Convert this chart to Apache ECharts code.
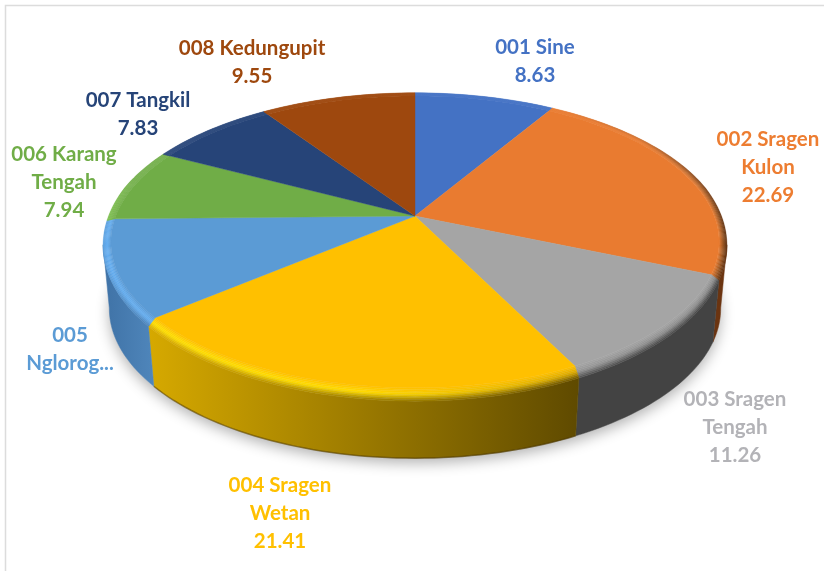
<!DOCTYPE html>
<html>
<head>
<meta charset="utf-8">
<script src="https://cdn.jsdelivr.net/npm/echarts@6/dist/echarts.min.js"></script>
<style>
  html, body { margin: 0; padding: 0; background: #fff; }
  #chart { width: 824px; height: 571px; }
</style>
</head>
<body>
<div id="chart"></div>
<script>
// data
const categories = ['001 Sine', '002 Sragen\nKulon', '003 Sragen\nTengah', '004 Sragen\nWetan', '005\nNglorog...', '006 Karang\nTengah', '007 Tangkil', '008 Kedungupit'];
const values = [8.63, 22.69, 11.26, 21.41, 10.69, 7.94, 7.83, 9.55];
const valueHidden = [false, false, false, false, true, false, false, false];

// colours
const faceColors = ['#4472C4', '#E97B30', '#A5A5A5', '#FFC000', '#5B9BD5', '#70AD47', '#264478', '#9E480E'];
const labelColors = ['#4472C4', '#ED7D31', '#B3B3B7', '#FFC000', '#5B9BD5', '#70AD47', '#264478', '#9E480E'];
const sideColors = [
  null,
  ['#6b3410', '#6b3410'],
  ['#434343', '#434343'],
  ['#d6a900', '#5f4a00'],
  ['#3f72a6', '#4f86bb'],
  null, null, null
];
const sideEdgeColors = [null, null, null, 'rgba(70,50,0,0.5)', null, null, null, null];
// bevel colours, left / middle / right of each slice
const rimHigh = [
  null,
  ['#E97B30', '#E97B30', '#9a5520'],
  ['#959595', '#8f8f8f', '#8a8a8a'],
  ['#ffe000', '#ffdb00', '#d8a600'],
  ['#64aef2', '#64aef2', '#64aef2'],
  ['#78b84c', '#70AD47', '#70AD47'],
  null, null
];
const rimEnd = [
  null,
  ['#E97B30', '#c96a28', '#5a2d0c'],
  ['#505050', '#484848', '#434343'],
  ['#d8a800', '#9a7c00', '#6a5200'],
  ['#5a9fdf', '#4f8cc4', '#4a80b5'],
  ['#7cc04e', '#70AD47', '#70AD47'],
  null, null
];
// label centres, placed by hand like the original
const labelCenters = [[535, 61], [768, 167], [735, 427], [280, 513], [70, 349], [64, 182], [138, 114], [252, 62]];

// projection of the tilted disc
const cx = 415, cy = 216, R = 307, S = 145, k = 0.177, depth = 66;
const faceScale = 0.975, rimDrop = 9, rimSteps = 8;
const total = values.reduce((a, b) => a + b, 0);
let acc = 0;
const sliceAngles = values.map(v => {
  const from = acc / total * 360;
  acc += v;
  return [from, acc / total * 360];
});

function project(deg) {
  const rad = deg * Math.PI / 180;
  const u = Math.sin(rad), v = Math.cos(rad);
  const d = 1 + k * v;
  return { x: R * u / d, y: -S * v / d, v: v };
}
// t = 0 flat face edge, t = 1 outer edge of the bevel
function rimPoint(deg, t) {
  const p = project(deg);
  const s = faceScale + (1 - faceScale) * t;
  const drop = t * rimDrop * Math.max(0, Math.min(1, (0.2 - p.v) / 1.2));
  return [cx + p.x * s, cy + p.y * s + drop];
}
function bottomPoint(deg) {
  const p = project(deg);
  return [cx + p.x * 0.98, cy + p.y + depth];
}
function arc(from, to, fn) {
  const pts = [];
  const n = Math.max(2, Math.ceil(Math.abs(to - from) / 1.5));
  for (let i = 0; i <= n; i++) pts.push(fn(from + (to - from) * i / n));
  return pts;
}
function hGradient(x0, x1, colors) {
  return new echarts.graphic.LinearGradient(x0, 0, x1, 0, colors.map((c, i) => ({
    offset: i / (colors.length - 1), color: c
  })), true);
}
function xRange(pts) {
  const xs = pts.map(p => p[0]);
  return [Math.min.apply(null, xs), Math.max.apply(null, xs)];
}

function renderShadow(params) {
  if (params.dataIndex !== 0) return null;
  return {
    type: 'polygon',
    shape: { points: arc(0, 360, bottomPoint) },
    style: { fill: '#e4e4e4', shadowBlur: 14, shadowColor: 'rgba(0,0,0,0.3)', shadowOffsetY: 5 }
  };
}

function renderSide(params) {
  const i = params.dataIndex;
  if (!sideColors[i]) return null;
  // only the part between the two silhouette tangents shows
  const from = Math.max(sliceAngles[i][0], 100);
  const to = Math.min(sliceAngles[i][1], 260);
  const top = arc(from, to, a => rimPoint(a, 1));
  const bottom = arc(from, to, bottomPoint);
  const range = xRange(top.concat(bottom));
  const fill = hGradient(range[0], range[1], sideColors[i]);
  const children = [{
    type: 'polygon',
    shape: { points: top.concat(bottom.slice().reverse()) },
    style: { fill: fill, stroke: fill, lineWidth: 0.5 }
  }];
  if (sideEdgeColors[i]) {
    children.push({
      type: 'polyline',
      shape: { points: bottom },
      style: { fill: null, stroke: sideEdgeColors[i], lineWidth: 1.5 }
    });
  }
  return { type: 'group', children: children };
}

function renderTop(params) {
  const i = params.dataIndex;
  const a0 = sliceAngles[i][0], a1 = sliceAngles[i][1];
  const face = faceColors[i];
  const children = [];
  const outer = arc(a0, a1, a => rimPoint(a, 1));
  const range = xRange(outer);
  for (let s = 0; s < rimSteps; s++) {
    const t0 = s / rimSteps, t1 = (s + 1) / rimSteps;
    const tm = (t0 + t1) / 2;
    const stops = [0, 1, 2].map(j => {
      if (!rimEnd[i]) return face;
      return echarts.color.lerp(tm, [face, rimHigh[i][j], rimEnd[i][j]]);
    });
    const fill = hGradient(range[0], range[1], stops);
    const inner = arc(a0, a1, a => rimPoint(a, t0));
    const out = arc(a0, a1, a => rimPoint(a, t1));
    children.push({
      type: 'polygon',
      shape: { points: inner.concat(out.reverse()) },
      style: { fill: fill, stroke: fill, lineWidth: 0.4 }
    });
  }
  children.push({
    type: 'polygon',
    shape: { points: [[cx, cy]].concat(arc(a0, a1, a => rimPoint(a, 0))) },
    style: { fill: face, stroke: face, lineWidth: 0.4 }
  });
  return { type: 'group', children: children };
}

function renderLabel(params, api) {
  const i = params.dataIndex;
  const text = valueHidden[i] ? categories[i] : categories[i] + '\n' + api.value(0).toFixed(2);
  return {
    type: 'text',
    style: {
      text: text,
      x: labelCenters[i][0],
      y: labelCenters[i][1],
      fill: labelColors[i],
      font: 'bold 20.5px Lato, "Open Sans", sans-serif',
      lineHeight: 28,
      textAlign: 'center',
      textVerticalAlign: 'middle'
    }
  };
}

const chart = echarts.init(document.getElementById('chart'));
chart.setOption({
  animation: false,
  backgroundColor: '#fff',
  graphic: [{
    type: 'rect',
    z: -1,
    shape: { x: 5.5, y: 5.5, width: 840, height: 590 },
    style: { fill: '#fff', stroke: '#dcdcdc', lineWidth: 1.5 }
  }],
  series: [
    { type: 'custom', coordinateSystem: 'none', silent: true, z: 1, data: values, renderItem: renderShadow },
    { type: 'custom', coordinateSystem: 'none', silent: true, z: 2, data: values, renderItem: renderSide },
    { type: 'custom', coordinateSystem: 'none', silent: true, z: 3, data: values, renderItem: renderTop },
    { type: 'custom', coordinateSystem: 'none', silent: true, z: 4, data: values, renderItem: renderLabel }
  ]
});
</script>
</body>
</html>
